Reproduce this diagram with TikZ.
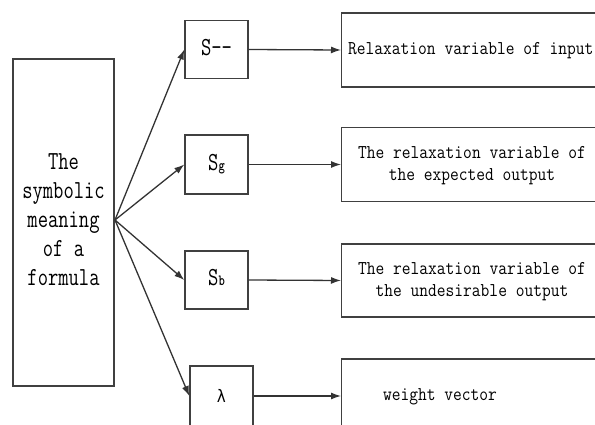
\documentclass[tikz,border=0pt]{standalone}
\usepackage{graphicx}
\usepackage{fontspec}
\newfontfamily\lamfont{DejaVu Sans Mono}
\usetikzlibrary{arrows.meta}
\newcommand{\tallA}[1]{\scalebox{1}[1.3]{\begin{tabular}{@{}c@{}}#1\end{tabular}}}
\newcommand{\tallB}[1]{\scalebox{1}[1.15]{\begin{tabular}{@{}c@{}}#1\end{tabular}}}
\begin{document}
\begin{tikzpicture}[x=1pt,y=-1pt,
  box/.style={draw=black!75,line width=1.4pt,inner sep=0pt},
  arr/.style={draw=black!80,line width=1.3pt,-{Latex[length=10pt,width=7pt]}},
  bigtxt/.style={font=\ttfamily\fontsize{20}{22.3}\selectfont,align=center,inner sep=0pt},
  smtxt/.style={font=\ttfamily\fontsize{17}{19}\selectfont,align=center,inner sep=0pt}]
\useasboundingbox (0,0) rectangle (595,425);
\clip (0,0) rectangle (595,425);
% left box
\node[box,minimum width=101pt,minimum height=327pt] (L) at (63.5,222.5) {};
\node[bigtxt] (Lt) at (63.5,222) {\tallA{The\\symbolic\\meaning\\of a\\formula}};
% symbol boxes
\node[box,minimum width=63pt,minimum height=58pt] (s1) at (216.5,49.5) {};
\node[bigtxt] (t1) at (s1) {\tallA{S--}};
\node[box,minimum width=63pt,minimum height=59pt] (s2) at (216.5,164.5) {};
\node[bigtxt] (t2) at (s2) {\tallA{S{\fontsize{12}{12}\selectfont\bfseries g}}};
\node[box,minimum width=63pt,minimum height=58pt] (s3) at (216.5,280) {};
\node[bigtxt] (t3) at (s3) {\tallA{S{\fontsize{12}{12}\selectfont\bfseries b}}};
\node[box,minimum width=63pt,minimum height=60pt] (s4) at (221.5,396) {};
\node[bigtxt] (t4) at (s4) {\scalebox{1}[1.15]{\lamfont\fontsize{15}{15}\selectfont λ}};
% description boxes
\node[box,minimum width=280pt,minimum height=74pt,anchor=west] (d1) at (341,50) {};
\node[smtxt,anchor=west] (e1) at (348,50) {\tallB{Relaxation variable of input}};
\node[box,minimum width=280pt,minimum height=74pt,anchor=west] (d2) at (341,164.5) {};
\node[smtxt] (e2) at (472,165) {\tallB{The relaxation variable of\\the expected output}};
\node[box,minimum width=280pt,minimum height=73pt,anchor=west] (d3) at (341,280.5) {};
\node[smtxt] (e3) at (472,281) {\tallB{The relaxation variable of\\the undesirable output}};
\node[box,minimum width=280pt,minimum height=74pt,anchor=west] (d4) at (341,396) {};
\node[smtxt] (e4) at (440,396) {\tallB{weight vector}};
% origin of fan
\coordinate (o) at (115,220);
\draw[arr] (o) -- (s1.west);
\draw[arr] (o) -- (s2.west);
\draw[arr] (o) -- (s3.west);
\draw[arr] (o) -- (s4.west);
\draw[arr] (s1.east) -- (d1.west);
\draw[arr] (s2.east) -- (d2.west);
\draw[arr] (s3.east) -- (d3.west);
\draw[arr] (s4.east) -- (d4.west);
\end{tikzpicture}
\end{document}
